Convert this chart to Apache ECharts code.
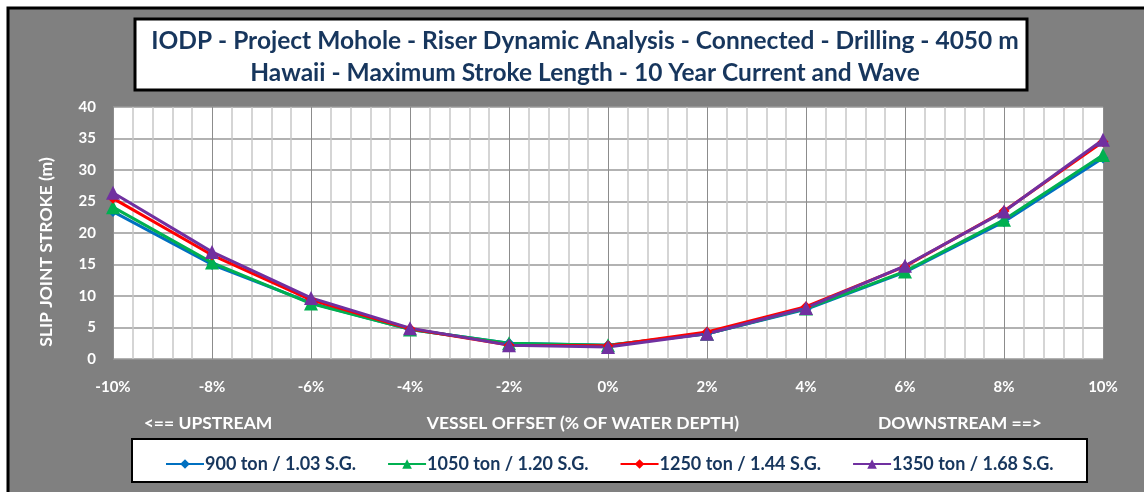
<!DOCTYPE html>
<html>
<head>
<meta charset="utf-8">
<script src="https://cdn.jsdelivr.net/npm/echarts@6/dist/echarts.min.js"></script>
<style>
  html, body { margin: 0; padding: 0; background: #fff; }
  #main { width: 1144px; height: 492px; }
</style>
</head>
<body>
<div id="main"></div>
<script>
// vessel offset (% of water depth)
const offsets = [-10, -8, -6, -4, -2, 0, 2, 4, 6, 8, 10];
// slip joint stroke (m) per tension case
const s900 = [23.4, 15.0, 8.9, 4.7, 2.5, 2.2, 4.0, 7.9, 13.8, 21.8, 31.9];
const s1050 = [24.1, 15.3, 8.8, 4.7, 2.5, 2.2, 4.0, 8.0, 13.9, 22.1, 32.4];
const s1250 = [25.5, 16.5, 9.4, 4.8, 2.2, 2.1, 4.3, 8.3, 14.7, 23.5, 34.5];
const s1350 = [26.4, 17.0, 9.7, 4.9, 2.2, 1.9, 4.0, 8.1, 14.8, 23.4, 34.8];
const seriesNames = ["900 ton / 1.03 S.G.", "1050 ton / 1.20 S.G.", "1250 ton / 1.44 S.G.", "1350 ton / 1.68 S.G."];
const yTicks = [0, 5, 10, 15, 20, 25, 30, 35, 40];

const font = "Lato, 'Liberation Sans', sans-serif";
const navy = "#17365D";

let myChart = echarts.init(document.getElementById("main"), null, { renderer: "canvas" });

const pair = (vals) => offsets.map((x, i) => [x, vals[i]]);

const mkSeries = (name, vals, color, symbol, size) => ({
  name: name,
  type: "line",
  data: pair(vals),
  symbol: symbol,
  symbolSize: size,
  lineStyle: { width: 3, color: color },
  itemStyle: { color: color },
  animation: false,
});

// white bold axis captions under the x labels
const caption = (text, x) => ({
  type: "text", z: 5, silent: true,
  x: x, y: 423,
  style: { text: text, fill: "#fff", font: "bold 17.5px " + font, align: "center", verticalAlign: "middle" },
});

let option = {
  backgroundColor: "#ffffff",
  textStyle: { fontFamily: font },
  graphic: [
    // outer grey frame
    {
      type: "rect", z: -10, silent: true,
      shape: { x: 8, y: 8, width: 1150, height: 500 },
      style: { fill: "#808080", stroke: "#000", lineWidth: 3 },
    },
    // title box
    {
      type: "rect", z: 1, silent: true,
      shape: { x: 135, y: 19, width: 892, height: 71 },
      style: { fill: "#fff", stroke: "#000", lineWidth: 3 },
    },
    // legend box
    {
      type: "rect", z: 1, silent: true,
      shape: { x: 132, y: 439, width: 955, height: 43 },
      style: { fill: "#fff", stroke: "#000", lineWidth: 2 },
    },
    caption("<== UPSTREAM", 208),
    caption("VESSEL OFFSET (% OF WATER DEPTH)", 583),
    caption("DOWNSTREAM ==>", 960),
    // y axis title (sits lower than the plot middle in the original)
    {
      type: "text", z: 5, silent: true,
      x: 46, y: 252, rotation: Math.PI / 2,
      style: { text: "SLIP JOINT STROKE (m)", fill: "#fff", font: "bold 17.5px " + font, align: "center", verticalAlign: "middle" },
    },
  ],
  title: {
    text: "IODP - Project Mohole - Riser Dynamic Analysis - Connected - Drilling - 4050 m\nHawaii - Maximum Stroke Length - 10 Year Current and Wave",
    left: 580,
    top: 20,
    textAlign: "center",
    z: 10,
    textStyle: { fontFamily: font, fontSize: 24.5, fontWeight: "bold", color: navy, lineHeight: 32 },
  },
  legend: {
    left: 160,
    top: 450,
    itemWidth: 38,
    itemHeight: 12,
    itemGap: 31,
    z: 10,
    textStyle: { fontFamily: font, fontSize: 18, fontWeight: "bold", color: navy, padding: [0, 0, 0, -4] },
    data: seriesNames,
  },
  grid: {
    left: 113,
    right: 41,
    top: 107,
    bottom: 133,
    show: true,
    backgroundColor: "#fff",
    borderWidth: 0,
  },
  xAxis: {
    type: "value",
    min: -10,
    max: 10,
    interval: 2,
    axisLine: { show: false },
    axisTick: { show: false },
    axisLabel: {
      margin: 21,
      color: "#fff",
      fontSize: 15,
      fontWeight: "bold",
      fontFamily: font,
      formatter: (v) => v + "%",
    },
    splitLine: { show: true, lineStyle: { color: "#8c8c8c", width: 1 } },
    minorTick: { show: false, splitNumber: 5 },
    minorSplitLine: { show: true, lineStyle: { color: "#c8c8c8", width: 1.5 } },
  },
  yAxis: {
    type: "value",
    min: yTicks[0],
    max: yTicks[yTicks.length - 1],
    interval: yTicks[1] - yTicks[0],
    axisLine: { show: false },
    axisTick: { show: false },
    axisLabel: { margin: 17, color: "#fff", fontSize: 15, fontWeight: "bold", fontFamily: font },
    splitLine: { show: true, lineStyle: { color: "#999", width: 1.5 } },
  },
  series: [
    mkSeries(seriesNames[0], s900, "#0070C0", "diamond", 11),
    mkSeries(seriesNames[1], s1050, "#00B050", "triangle", 14),
    mkSeries(seriesNames[2], s1250, "#FF0000", "diamond", 11),
    mkSeries(seriesNames[3], s1350, "#7030A0", "triangle", 14),
  ],
};

option && myChart.setOption(option);
</script>
</body>
</html>
